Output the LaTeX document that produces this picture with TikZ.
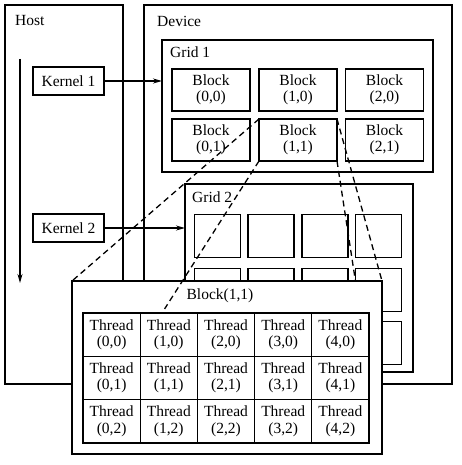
\documentclass[tikz,border=0pt]{standalone}
\usepackage{fontspec}
\setmainfont{Liberation Serif}
\usetikzlibrary{arrows.meta,calc}
\begin{document}
\begin{tikzpicture}[x=1pt,y=-1pt,
  frame/.style={draw,line width=1.3pt,inner sep=0pt,outer sep=0pt,rectangle},
  txt/.style={font=\fontsize{15.5}{16.5}\selectfont},
  lbl/.style={txt,anchor=west,inner sep=0pt},
  blk/.style={frame,txt,align=center,minimum width=78pt,minimum height=42pt},
  sblk/.style={frame,minimum width=46pt,minimum height=43pt},
  kern/.style={frame,txt,minimum width=71pt,minimum height=28pt},
  cell/.style={frame,line width=1.1pt,txt,align=center,minimum width=57.2pt,minimum height=43.3pt},
  arr/.style={line width=1.2pt,-{Stealth[length=9pt,width=5pt]}},
  dsh/.style={line width=1.3pt,dash pattern=on 6pt off 4pt}]
\fill[white] (0,0) rectangle (462,465);
\useasboundingbox (0,0) rectangle (462,465);
% host
\node[frame,minimum width=118pt,minimum height=379pt] (host) at (64,194.5) {};
\node[lbl] (hostlbl) at (15,21) {Host};
% device
\node[frame,minimum width=308pt,minimum height=379pt] (device) at (298,194.5) {};
\node[lbl] (devlbl) at (157,21) {Device};
% grid 1
\node[frame,minimum width=271pt,minimum height=132pt] (grid1) at (297.5,106) {};
\node[lbl] (g1lbl) at (170,52) {Grid 1};
\node[blk] (b00) at (211,90) {Block\\(0,0)};
\node[blk] (b10) at (298,90) {Block\\(1,0)};
\node[blk] (b20) at (384.5,90) {Block\\(2,0)};
\node[blk] (b01) at (211,140) {Block\\(0,1)};
\node[blk] (b11) at (298,140) {Block\\(1,1)};
\node[blk] (b21) at (384.5,140) {Block\\(2,1)};
% grid 2
\node[frame,minimum width=228pt,minimum height=188pt] (grid2) at (299,278) {};
\node[lbl] (g2lbl) at (192,197) {Grid 2};
\foreach \x [count=\i] in {217.5,271,325,378.5}
  \foreach \y [count=\j] in {236,290,343}
    \node[sblk] (s\i\j) at (\x,\y) {};
% kernels
\node[kern] (k1) at (68.5,81) {Kernel 1};
\node[kern] (k2) at (68.5,228) {Kernel 2};
\draw[arr] (k1.east) -- (k1.east -| grid1.west);
\draw[arr] (k2.east) -- (k2.east -| grid2.west);
\coordinate (hs) at (20,59);
\coordinate (he) at (20,283);
\draw[arr] (hs) -- (he);
% zoom lines
\coordinate (bigNW) at (72,281);
\coordinate (bigNE) at (382,281);
\coordinate (bigSW) at (72,454);
\coordinate (bigSE) at (382,454);
\draw[dsh] (b11.north west) -- (bigNW);
\draw[dsh] (b11.north east) -- (bigNE);
\draw[dsh] (b11.south east) -- (bigSE);
% block(1,1) detail
\node[frame,line width=1.8pt,fill=white,minimum width=310pt,minimum height=173pt] (big) at (227,367.5) {};
\coordinate (cut) at ($(b11.south west)!0.505!(bigSW)$);
\draw[dsh] (b11.south west) -- (cut);
\node[txt,inner sep=0pt] (biglbl) at (220,296) {Block(1,1)};
\foreach \x [count=\i from 0] in {111.6,168.8,226,283.2,340.4}
  \foreach \y [count=\j from 0] in {334.65,377.95,421.25}
    \node[cell] (t\i\j) at (\x,\y) {Thread\\(\i,\j)};
\draw[line width=1.6pt] (t00.north west) rectangle (t42.south east);
\end{tikzpicture}
\end{document}
